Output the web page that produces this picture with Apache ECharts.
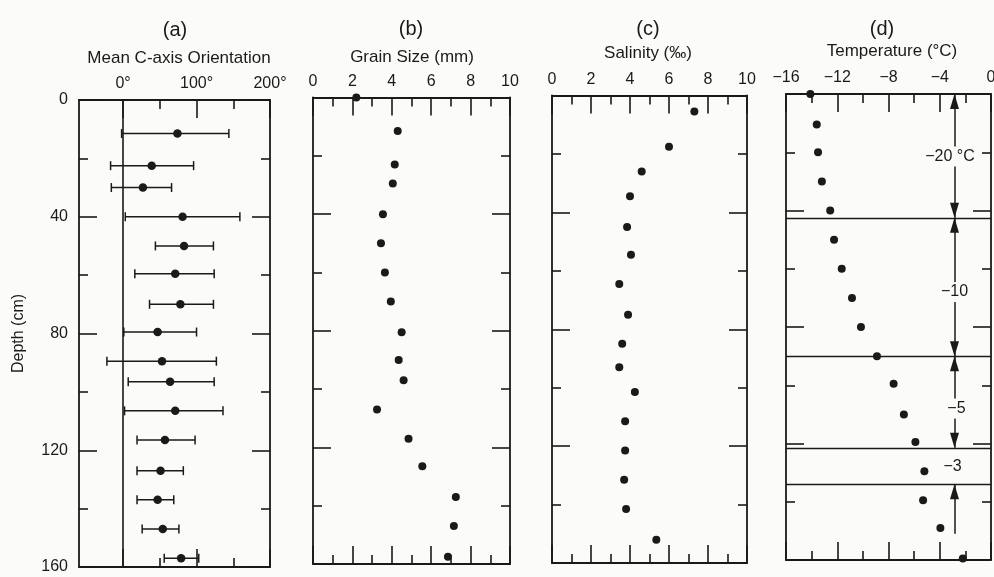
<!DOCTYPE html>
<html><head><meta charset="utf-8">
<script src="https://cdn.jsdelivr.net/npm/echarts@6/dist/echarts.min.js"></script>
<style>html,body{margin:0;padding:0;background:#fbfbfa}#c{width:994px;height:577px}</style>
</head><body><div id="c"></div>
<script>
// ---- (a) Mean C-axis orientation (degrees) with spread ----
const depthA = [11.5, 22.5, 30, 40, 50, 59.5, 70, 79.5, 89.5, 96.5, 106.5, 116.5, 127, 137, 147, 157];
const orientMean = [74, 39, 27, 81, 83, 71, 78, 47, 53, 64, 71, 57, 51, 47, 54, 79];
const orientLow  = [-2, -17, -16, 3, 44, 16, 36, 1, -22, 7, 2, 19, 19, 19, 26, 56];
const orientHigh = [144, 96, 66, 159, 123, 124, 123, 100, 127, 124, 136, 98, 82, 69, 76, 103];
// ---- (b) Grain size (mm) ----
const depthB = [0, 11.5, 23, 29.5, 40, 50, 60, 70, 80.5, 90, 97, 107, 117, 126.5, 137, 147, 157.5];
const grain  = [2.2, 4.3, 4.15, 4.05, 3.55, 3.45, 3.65, 3.95, 4.5, 4.35, 4.6, 3.25, 4.85, 5.55, 7.25, 7.15, 6.85];
// ---- (c) Salinity (per mille) ----
const depthC = [5.5, 17.5, 26, 34.5, 45, 54.5, 64.5, 75, 85, 93, 101.5, 111.5, 121.5, 131.5, 141.5, 152];
const salinity = [7.3, 6.0, 4.6, 4.0, 3.85, 4.05, 3.45, 3.9, 3.6, 3.45, 4.25, 3.75, 3.75, 3.7, 3.8, 5.35];
// ---- (d) Temperature (deg C) ----
const depthD = [0, 10.5, 20, 30, 40, 50, 60, 70, 80, 90, 99.5, 110, 119.5, 129.5, 139.5, 149, 159.5];
const temperature = [-14.1, -13.6, -13.5, -13.2, -12.55, -12.25, -11.65, -10.85, -10.15, -8.9, -7.6, -6.8, -5.9, -5.2, -5.3, -3.95, -2.2];
// layer boundaries and layer labels in (d)
const layerBounds = [42.5, 90, 121.5, 134];
const layerLabels = ['\u221220 \u00b0C', '\u221210', '\u22125', '\u22123'];
const layerLabelDepth = [21.5, 68, 108, 128];
const layerLabelTemp = [-3.2, -2.85, -2.7, -3.0];
const arrowTemp = -2.85;
// arrow segments: [fromDepth, toDepth, fromHead, toHead]
const arrowSegs = [[0, 42.5, true, true], [42.5, 90, true, true], [90, 121.5, true, true], [134, 151, true, false]];
// ticks / labels
const orientTickLabels = [0, 100, 200];
const orientMajorTicks = [0, 100, 200];
const orientMinorTicks = [50, 150];
const panelLetters = ['(a)', '(b)', '(c)', '(d)'];
const panelTitles = ['Mean C-axis Orientation', 'Grain Size (mm)', 'Salinity (\u2030)', 'Temperature (\u00b0C)'];

const FONT = '"Liberation Sans", Arial, Helvetica, sans-serif';
const INK = '#1a1a1a';
const BG = '#fbfbfa';
const LW = 1.8;

const grids = [
  {left: 79, top: 100, width: 191, height: 467},
  {left: 313, top: 97.5, width: 197, height: 466.5},
  {left: 552, top: 95.5, width: 195, height: 467.5},
  {left: 786, top: 94, width: 205, height: 466}
];
grids.forEach(g => { g.containLabel = false; g.outerBoundsMode = 'none'; });

const tickStyle = {color: INK, width: 1.6};
const lineStyle = {color: INK, width: LW};
const lbl = {fontSize: 16, fontFamily: FONT, color: INK};

function yPair(gi, withLabels) {
  const mk = (pos) => ({
    type: 'value', gridIndex: gi, position: pos, min: 0, max: 160, interval: 40, inverse: true,
    axisLine: {show: true, onZero: false, lineStyle: lineStyle},
    axisTick: {show: true, inside: true, length: 18, lineStyle: tickStyle},
    minorTick: {show: true, splitNumber: 2, length: 9, lineStyle: tickStyle},
    splitLine: {show: false}, minorSplitLine: {show: false},
    axisLabel: {show: false}
  });
  const l = mk('left'), r = mk('right');
  if (withLabels) {
    l.axisLabel = Object.assign({show: true, margin: 11, padding: [5, 0, 0, 0]}, lbl);
    l.name = 'Depth (cm)';
    l.nameLocation = 'middle';
    l.nameGap = 52;
    l.nameRotate = 90;
    l.nameTextStyle = {fontSize: 16, fontFamily: FONT, color: INK};
  }
  return [l, r];
}
function xPair(gi, min, max, interval, fmt) {
  const mk = (pos, labels) => ({
    type: 'value', gridIndex: gi, position: pos, min: min, max: max, interval: interval,
    axisLine: {show: true, onZero: false, lineStyle: lineStyle},
    axisTick: {show: true, inside: true, length: 18, lineStyle: tickStyle},
    minorTick: {show: true, splitNumber: 2, length: 9, lineStyle: tickStyle},
    splitLine: {show: false}, minorSplitLine: {show: false},
    axisLabel: labels ? Object.assign({show: true, margin: 8, formatter: fmt}, lbl) : {show: false}
  });
  return [mk('top', true), mk('bottom', false)];
}
function xOrient(pos, labels, values, len, showLine) {
  return {
    type: 'value', gridIndex: 0, position: pos, min: -60, max: 200,
    axisLine: {show: showLine, onZero: false, lineStyle: lineStyle},
    axisTick: {show: true, inside: true, length: len, customValues: values, lineStyle: tickStyle},
    splitLine: {show: false},
    axisLabel: labels ? Object.assign({show: true, margin: 8, customValues: orientTickLabels, formatter: v => v + '\u00b0'}, lbl) : {show: false}
  };
}
const minusFmt = v => String(v).replace('-', '\u2212');

const xAxes = [
  xOrient('top', true, orientMajorTicks, 18, true),
  xOrient('top', false, orientMinorTicks, 9, false),
  xOrient('bottom', false, orientMajorTicks, 18, true),
  xOrient('bottom', false, orientMinorTicks, 9, false),
  ...xPair(1, 0, 10, 2, minusFmt),
  ...xPair(2, 0, 10, 2, minusFmt),
  ...xPair(3, -16, 0, 4, minusFmt)
];
const yAxes = [...yPair(0, true), ...yPair(1, false), ...yPair(2, false), ...yPair(3, false)];

const zip = (xs, ys) => xs.map((x, i) => [x, ys[i]]);
const dot = {symbol: 'circle', symbolSize: 8, itemStyle: {color: INK, opacity: 1}};

const arrowData = arrowSegs.map(s => [
  {coord: [arrowTemp, s[0]], symbol: s[2] ? 'triangle' : 'none', symbolSize: [9, 15], symbolOffset: [0, 7.5]},
  {coord: [arrowTemp, s[1]], symbol: s[3] ? 'triangle' : 'none', symbolSize: [9, 15], symbolOffset: [0, 7.5]}
]);

const graphics = [];
const letterPos = [[175, 30], [411, 29.5], [648, 29], [882, 29]];
const titlePos = [[179, 58], [412, 57.5], [648, 53.5], [892, 51.5]];
panelLetters.forEach((t, i) => graphics.push({type: 'text', x: letterPos[i][0], y: letterPos[i][1],
  style: {text: t, font: '20px ' + FONT, fill: INK, textAlign: 'center', textVerticalAlign: 'middle'}}));
panelTitles.forEach((t, i) => graphics.push({type: 'text', x: titlePos[i][0], y: titlePos[i][1],
  style: {text: t, font: '17px ' + FONT, fill: INK, textAlign: 'center', textVerticalAlign: 'middle'}}));

const option = {
  backgroundColor: BG,
  animation: false,
  textStyle: {fontFamily: FONT},
  grid: grids,
  xAxis: xAxes,
  yAxis: yAxes,
  graphic: graphics,
  series: [
    {
      type: 'custom', xAxisIndex: 0, yAxisIndex: 0, silent: true, clip: false,
      data: depthA.map((d, i) => [orientLow[i], orientHigh[i], d]),
      encode: {x: [0, 1], y: 2},
      renderItem: function (params, api) {
        const p1 = api.coord([api.value(0), api.value(2)]);
        const p2 = api.coord([api.value(1), api.value(2)]);
        const st = {stroke: INK, lineWidth: 1.5};
        const h = 4.5;
        return {type: 'group', children: [
          {type: 'line', shape: {x1: p1[0], y1: p1[1], x2: p2[0], y2: p2[1]}, style: st},
          {type: 'line', shape: {x1: p1[0], y1: p1[1] - h, x2: p1[0], y2: p1[1] + h}, style: st},
          {type: 'line', shape: {x1: p2[0], y1: p2[1] - h, x2: p2[0], y2: p2[1] + h}, style: st}
        ]};
      }
    },
    Object.assign({type: 'scatter', xAxisIndex: 0, yAxisIndex: 0, clip: false, silent: true, z: 3,
      data: zip(orientMean, depthA),
      markLine: {silent: true, symbol: ['none', 'none'], label: {show: false},
        lineStyle: {color: INK, width: 1.6, type: 'solid', opacity: 1}, data: [{xAxis: 0}]}
    }, dot, {symbolSize: 8.5}),
    Object.assign({type: 'scatter', xAxisIndex: 4, yAxisIndex: 2, clip: false, silent: true, data: zip(grain, depthB)}, dot),
    Object.assign({type: 'scatter', xAxisIndex: 6, yAxisIndex: 4, clip: false, silent: true, data: zip(salinity, depthC)}, dot),
    Object.assign({type: 'scatter', xAxisIndex: 8, yAxisIndex: 6, clip: false, silent: true, z: 6,
      data: zip(temperature, depthD),
      markLine: {silent: true, symbol: ['none', 'none'], label: {show: false}, z: 2,
        lineStyle: {color: INK, width: 1.3, type: 'solid', opacity: 1},
        data: layerBounds.map(v => ({yAxis: v}))}
    }, dot),
    {
      type: 'scatter', xAxisIndex: 8, yAxisIndex: 6, clip: false, silent: true, z: 10, zlevel: 1,
      symbolSize: 0,
      itemStyle: {opacity: 1, color: INK},
      data: layerLabels.map((t, i) => ({name: t, value: [layerLabelTemp[i], layerLabelDepth[i]]})),
      label: {show: true, position: 'inside', formatter: p => p.name, fontSize: 16, fontFamily: FONT, color: INK,
        backgroundColor: BG, padding: [2, 1], opacity: 1}
    },
    {
      type: 'scatter', xAxisIndex: 8, yAxisIndex: 6, silent: true, data: [],
      markLine: {silent: true, label: {show: false}, z: 3,
        lineStyle: {color: INK, width: 1.5, type: 'solid', opacity: 1}, itemStyle: {color: INK},
        data: arrowData}
    }
  ]
};
const chart = echarts.init(document.getElementById('c'), null, {renderer: 'canvas'});
chart.setOption(option);
</script>
</body></html>
